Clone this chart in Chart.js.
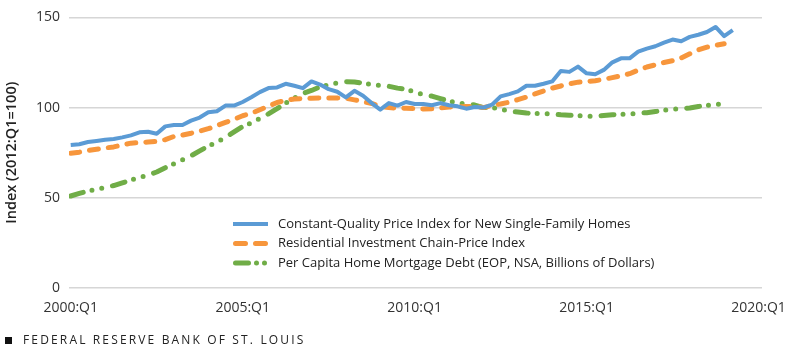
<!DOCTYPE html>
<html>
<head>
<meta charset="utf-8">
<script src="https://cdn.jsdelivr.net/npm/chart.js@4.4.1/dist/chart.umd.min.js"></script>
<style>
  html, body { margin: 0; padding: 0; background: #fff; }
  #wrap { position: relative; width: 800px; height: 355px; }
  #footer { position: absolute; left: 5px; top: 331px; font-family: "Open Sans", Lato, sans-serif; font-size: 12px; letter-spacing: 2.15px; color: #222; white-space: nowrap; }
  #footer .sq { display: inline-block; width: 7px; height: 7px; background: #111; margin-right: 11px; vertical-align: 0px; }
</style>
</head>
<body>
<div id="wrap">
  <canvas id="c" width="800" height="355"></canvas>
  <div id="footer"><span class="sq"></span>FEDERAL RESERVE BANK OF ST. LOUIS</div>
</div>
<script>
// Quarters indexed from 0 = 2000:Q1 to 80 = 2020:Q1
const tickLabels = ['2000:Q1', '2005:Q1', '2010:Q1', '2015:Q1', '2020:Q1'];
const tickIndex = [0, 20, 40, 60, 80];
const yTicks = [0, 50, 100, 150];

const seriesNames = [
  'Constant-Quality Price Index for New Single-Family Homes',
  'Residential Investment Chain-Price Index',
  'Per Capita Home Mortgage Debt (EOP, NSA, Billions of Dollars)'
];

// Constant-Quality Price Index, 2000:Q1 - 2019:Q2
const priceIndex = [
  79.3, 79.7, 80.9, 81.5, 82.2, 82.6, 83.5, 84.6, 86.3, 86.6,
  85.5, 89.6, 90.3, 90.4, 92.8, 94.5, 97.4, 98.0, 101.1, 101.1,
  103.1, 105.7, 108.6, 110.8, 111.2, 113.2, 112.1, 110.8, 114.5, 112.8,
  110.2, 108.8, 105.7, 109.3, 106.6, 102.5, 98.9, 102.5, 101.1, 103.1,
  102.0, 102.0, 101.3, 102.5, 101.3, 100.7, 99.4, 100.3, 100.0, 101.6,
  106.2, 107.5, 109.0, 112.1, 112.1, 113.2, 114.5, 120.3, 119.8, 122.7,
  119.0, 118.5, 120.9, 125.1, 127.3, 127.3, 131.0, 132.7, 134.0, 136.0,
  137.7, 136.8, 139.2, 140.4, 141.9, 144.7, 139.6, 142.9
];

// Residential Investment Chain-Price Index, 2000:Q1 - 2019:Q1
const chainPrice = [
  74.7, 75.3, 76.2, 76.9, 77.6, 78.2, 79.3, 80.3, 80.6, 80.9,
  81.3, 82.2, 84.0, 84.8, 85.8, 87.0, 88.3, 90.0, 91.8, 93.5,
  95.5, 96.8, 98.8, 100.8, 102.8, 104.0, 104.8, 105.0, 105.2, 105.3,
  105.3, 105.3, 105.2, 104.3, 103.3, 102.3, 100.8, 100.0, 99.7, 99.6,
  99.4, 99.2, 99.3, 99.8, 100.3, 100.5, 100.6, 100.7, 100.0, 101.2,
  102.0, 103.0, 104.4, 105.8, 107.6, 109.2, 110.8, 112.0, 113.2, 114.1,
  114.5, 114.9, 115.7, 116.6, 117.6, 118.8, 120.8, 122.5, 123.7, 125.0,
  126.0, 127.5, 129.8, 132.0, 133.5, 134.5, 135.4
];

// Per Capita Home Mortgage Debt, 2000:Q1 - 2019:Q1
const mortgageDebt = [
  51.0, 52.4, 53.7, 54.7, 55.7, 56.8, 58.3, 59.8, 61.2, 62.6,
  64.3, 66.7, 68.9, 71.0, 73.3, 76.0, 78.7, 80.8, 83.5, 86.5,
  89.5, 91.5, 94.0, 96.5, 99.4, 102.5, 105.3, 107.8, 109.5, 111.5,
  112.6, 113.7, 114.3, 114.2, 113.5, 112.8, 112.2, 111.8, 110.8, 110.2,
  108.6, 107.2, 106.4, 105.0, 103.6, 102.5, 102.0, 101.4, 100.0, 100.0,
  99.2, 98.0, 97.6, 97.0, 96.7, 96.7, 96.4, 96.0, 95.8, 95.5,
  95.2, 95.2, 95.6, 96.0, 96.2, 96.4, 96.9, 97.2, 97.8, 98.5,
  99.0, 99.5, 99.8, 100.6, 101.2, 101.7, 102.0
];

const colors = ['#5B9BD5', '#F7963C', '#70AD47'];

function toPoints(arr) { return arr.map((v, i) => ({ x: i, y: v })); }

const FONT = '"Open Sans", Lato, sans-serif';

const legendPlugin = {
  id: 'inlineLegend',
  afterDatasetsDraw(chart) {
    const ctx = chart.ctx;
    const x0 = 233, x1 = 268, tx = 278;
    const rows = [224, 243.5, 263];
    ctx.save();
    chart.data.datasets.forEach((ds, i) => {
      const y = rows[i];
      ctx.beginPath();
      ctx.strokeStyle = ds.borderColor;
      ctx.lineWidth = 5;
      ctx.lineCap = 'round';
      if (i === 1) ctx.setLineDash([10, 10]);
      else if (i === 2) ctx.setLineDash([13, 8, 0, 8, 0, 20]);
      else { ctx.setLineDash([]); ctx.lineCap = 'butt'; ctx.lineWidth = 4; }
      const sx = (i === 0) ? x0 : x0 + 2.5;
      const ex = (i === 0) ? x1 : x1 - 2.5;
      ctx.moveTo(sx, y);
      ctx.lineTo(ex, y);
      ctx.stroke();
      ctx.setLineDash([]);
      ctx.fillStyle = '#222';
      ctx.font = '13px ' + FONT;
      ctx.textBaseline = 'middle';
      ctx.textAlign = 'left';
      ctx.fillText(ds.label, tx, y);
    });
    ctx.restore();
  }
};

new Chart(document.getElementById('c'), {
  type: 'line',
  data: {
    datasets: [
      { label: seriesNames[0], data: toPoints(priceIndex), borderColor: colors[0], backgroundColor: colors[0], borderWidth: 4, pointRadius: 0, tension: 0, borderJoinStyle: 'round' },
      { label: seriesNames[1], data: toPoints(chainPrice), borderColor: colors[1], backgroundColor: colors[1], borderWidth: 5, pointRadius: 0, tension: 0, borderDash: [9, 10], borderCapStyle: 'round', borderJoinStyle: 'round' },
      { label: seriesNames[2], data: toPoints(mortgageDebt), borderColor: colors[2], backgroundColor: colors[2], borderWidth: 5, pointRadius: 0, tension: 0, borderDash: [13, 9, 0, 10, 0, 11], borderCapStyle: 'round', borderJoinStyle: 'round' }
    ]
  },
  options: {
    responsive: false,
    animation: false,
    layout: { padding: { left: 0, right: 38, top: 15, bottom: 23 } },
    plugins: { legend: { display: false }, tooltip: { enabled: false } },
    scales: {
      x: {
        type: 'linear',
        min: -0.2,
        max: 80.4,
        grid: { display: false, drawTicks: false },
        border: { display: false },
        afterBuildTicks(scale) { scale.ticks = tickIndex.map(v => ({ value: v })); },
        afterFit(scale) { scale.height = 44; },
        ticks: {
          color: '#333',
          font: { family: FONT, size: 14 },
          padding: 12,
          maxRotation: 0,
          autoSkip: false,
          callback: (v) => { const k = tickIndex.indexOf(v); return k >= 0 ? tickLabels[k] : ''; }
        }
      },
      y: {
        min: 0,
        max: 150,
        afterBuildTicks(scale) { scale.ticks = yTicks.map(v => ({ value: v })); },
        afterFit(scale) { scale.width = 69; },
        grid: { color: '#d6d6d6', lineWidth: 1.5, drawTicks: false },
        border: { display: false },
        ticks: { color: '#333', font: { family: FONT, size: 14 }, padding: 9 },
        title: { display: true, text: 'Index (2012:Q1=100)', color: '#222', font: { family: FONT, size: 14.5, weight: '600' }, padding: { top: 3, bottom: 4 } }
      }
    }
  },
  plugins: [legendPlugin]
});
</script>
</body>
</html>
